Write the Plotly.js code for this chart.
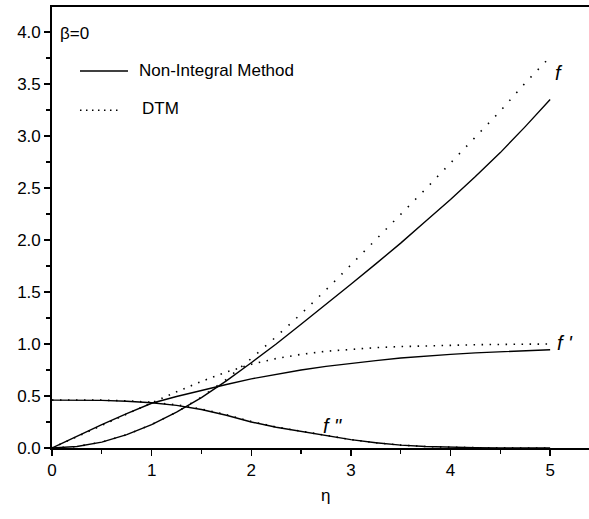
<!DOCTYPE html>
<html>
<head>
<meta charset="utf-8">
<script src="https://cdn.plot.ly/plotly-3.0.1.min.js"></script>
<style>html,body{margin:0;padding:0;background:#fff;}#chart{width:589px;height:519px;}</style>
</head>
<body>
<div id="chart"></div>
<script>
// eta grid (read at these positions)
var eta = [0, 0.25, 0.5, 0.75, 1, 1.25, 1.5, 1.75, 2, 2.25, 2.5, 2.75, 3, 3.25, 3.5, 3.75, 4, 4.25, 4.5, 4.75, 5];

// Non-Integral Method (solid)
var nimF   = [0, 0.014, 0.057, 0.128, 0.225, 0.345, 0.485, 0.645, 0.82, 1.0, 1.19, 1.38, 1.575, 1.77, 1.97, 2.18, 2.39, 2.61, 2.84, 3.09, 3.35];
var nimFp  = [0, 0.115, 0.225, 0.33, 0.43, 0.495, 0.555, 0.61, 0.665, 0.71, 0.75, 0.785, 0.815, 0.84, 0.865, 0.885, 0.90, 0.915, 0.925, 0.935, 0.945];
var nimFpp = [0.46, 0.46, 0.458, 0.45, 0.435, 0.41, 0.37, 0.315, 0.25, 0.2, 0.158, 0.118, 0.08, 0.05, 0.028, 0.014, 0.007, 0.003, 0.001, 0.0005, 0];

// DTM (dotted)
var dtmF   = [0, 0.014, 0.057, 0.128, 0.225, 0.345, 0.49, 0.66, 0.86, 1.07, 1.29, 1.52, 1.76, 2.0, 2.245, 2.49, 2.74, 2.99, 3.24, 3.51, 3.76];
var dtmFp  = [0, 0.11, 0.22, 0.33, 0.435, 0.54, 0.64, 0.73, 0.805, 0.86, 0.9, 0.93, 0.95, 0.965, 0.975, 0.983, 0.989, 0.993, 0.996, 0.998, 1.0];
var dtmFpp = [0.462, 0.462, 0.46, 0.453, 0.44, 0.415, 0.375, 0.32, 0.255, 0.202, 0.16, 0.12, 0.081, 0.05, 0.028, 0.014, 0.007, 0.003, 0.001, 0.0005, 0];

var xTicks = [0, 1, 2, 3, 4, 5];
var yTicks = [0, 0.5, 1, 1.5, 2, 2.5, 3, 3.5, 4];
var seriesNames = ['Non-Integral Method', 'DTM'];

var solid = {color: '#000', width: 1.4, dash: 'solid'};
function dotted(d) { return {color: '#000', width: 1.6, dash: d}; }

var traces = [
  {x: eta, y: nimF, mode: 'lines', line: solid, name: seriesNames[0] + ' f'},
  {x: eta, y: nimFp, mode: 'lines', line: solid, name: seriesNames[0] + " f'"},
  {x: eta, y: nimFpp, mode: 'lines', line: solid, name: seriesNames[0] + " f''"},
  {x: eta, y: dtmF, mode: 'lines', line: dotted('1.5px,9px'), name: seriesNames[1] + ' f'},
  {x: eta, y: dtmFp, mode: 'lines', line: dotted('1.5px,6.5px'), name: seriesNames[1] + " f'"},
  {x: eta, y: dtmFpp, mode: 'lines', line: dotted('1.5px,6.5px'), name: seriesNames[1] + " f''"}
];

var FAM = 'Liberation Sans, Arial, sans-serif';
var axFont = {family: FAM, size: 17, color: '#000'};
var lblFont = {family: FAM, size: 20, color: '#000', style: 'italic'};

var layout = {
  width: 589, height: 519,
  margin: {l: 52, r: 0, t: 7, b: 71},
  paper_bgcolor: '#fff', plot_bgcolor: '#fff',
  showlegend: false,
  xaxis: {
    range: [0, 5.39], tickvals: xTicks, ticktext: xTicks.map(String),
    ticks: 'outside', ticklen: 6, tickwidth: 1.4, tickcolor: '#000',
    minor: {dtick: 0.5, tick0: 0, ticks: 'outside', ticklen: 4, tickwidth: 1.2, tickcolor: '#000', showgrid: false},
    showline: true, linewidth: 1.8, linecolor: '#000', mirror: true,
    showgrid: false, zeroline: false, tickfont: axFont
  },
  yaxis: {
    range: [0, 4.24], tickvals: yTicks, ticktext: yTicks.map(function(v){return v.toFixed(1);}),
    ticks: 'outside', ticklen: 6, tickwidth: 1.4, tickcolor: '#000',
    minor: {dtick: 0.25, tick0: 0, ticks: 'outside', ticklen: 4, tickwidth: 1.2, tickcolor: '#000', showgrid: false},
    showline: true, linewidth: 1.8, linecolor: '#000', mirror: false,
    showgrid: false, zeroline: false, tickfont: axFont
  },
  shapes: [
    {type: 'line', xref: 'paper', yref: 'paper', x0: 0.0521, x1: 0.1415, y0: 0.8549, y1: 0.8549, line: {color: '#000', width: 1.4}},
    {type: 'line', xref: 'paper', yref: 'paper', x0: 0.0521, x1: 0.130, y0: 0.766, y1: 0.766, line: {color: '#000', width: 1.4, dash: '1.5px,4.5px'}}
  ],
  annotations: [
    {text: 'η', xref: 'paper', yref: 'paper', x: 0.51, y: -0.1066, xanchor: 'center', yanchor: 'middle', showarrow: false, font: {family: FAM, size: 17, color: '#000'}},
    {text: seriesNames[0], xref: 'paper', yref: 'paper', x: 0.158, y: 0.8549, xanchor: 'left', yanchor: 'middle', showarrow: false, font: {family: FAM, size: 17, color: '#000'}},
    {text: seriesNames[1], xref: 'paper', yref: 'paper', x: 0.163, y: 0.770, xanchor: 'left', yanchor: 'middle', showarrow: false, font: {family: FAM, size: 17, color: '#000'}},
    {text: 'β=0', xref: 'paper', yref: 'paper', x: 0.012, y: 0.941, xanchor: 'left', yanchor: 'middle', showarrow: false, font: {family: FAM, size: 17, color: '#000'}},
    {text: 'f', xref: 'x', yref: 'y', x: 5.03, y: 3.61, xanchor: 'left', yanchor: 'middle', showarrow: false, font: lblFont},
    {text: "f '", xref: 'x', yref: 'y', x: 5.05, y: 1.01, xanchor: 'left', yanchor: 'middle', showarrow: false, font: lblFont},
    {text: 'f "', xref: 'x', yref: 'y', x: 2.7, y: 0.21, xanchor: 'left', yanchor: 'middle', showarrow: false, font: lblFont}
  ]
};

Plotly.newPlot('chart', traces, layout, {displayModeBar: false, staticPlot: true});
</script>
</body>
</html>
